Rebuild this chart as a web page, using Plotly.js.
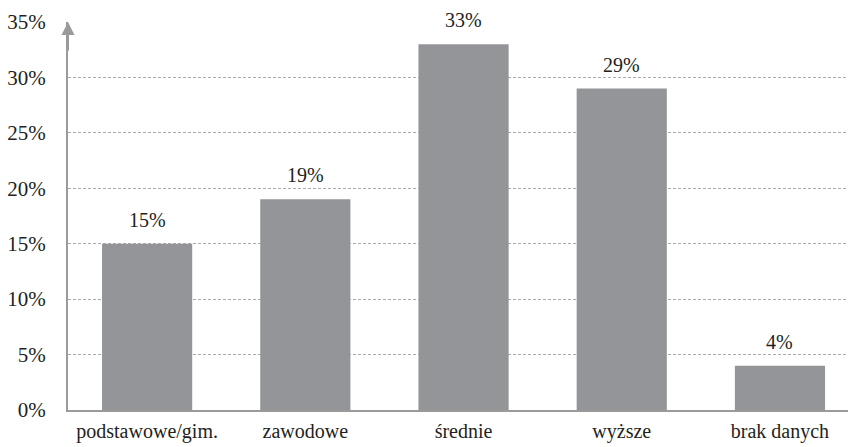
<!DOCTYPE html>
<html><head><meta charset="utf-8">
<script src="https://cdn.plot.ly/plotly-3.0.1.min.js"></script>
<style>html,body{margin:0;padding:0;background:#fff}</style>
</head><body>
<div id="chart" style="width:848px;height:447px"></div>
<script>
const categories = ["podstawowe/gim.", "zawodowe", "średnie", "wyższe", "brak danych"];
const values = [15, 19, 33, 29, 4];
const tickVals = [0, 5, 10, 15, 20, 25, 30, 35];
const tickText = ["0%", "5%", "10%", "15%", "20%", "25%", "30%", "35%"];

const font = "Liberation Serif";
const trace = {
  type: "bar",
  x: categories.map((c, i) => i),
  y: values,
  width: 0.57,
  marker: {color: "#939598"},
  hoverinfo: "none"
};
const annotations = values.map((v, i) => ({
  x: i, y: v, xref: "x", yref: "y", text: v + "%", showarrow: false,
  yshift: 24, font: {family: font, size: 20, color: "#231f20"}
}));
annotations.push({
  x: 0, y: 1, xref: "paper", yref: "paper", ax: 0, ay: 30, axref: "pixel", ayref: "pixel",
  showarrow: true, arrowhead: 2, arrowsize: 1.3, arrowwidth: 2, arrowcolor: "#9a9a9a", text: ""
});
const layout = {
  width: 848, height: 447,
  margin: {l: 68, r: 0, t: 22, b: 37},
  paper_bgcolor: "#fff", plot_bgcolor: "#fff",
  showlegend: false,
  xaxis: {
    range: [-0.5, 4.43], tickvals: categories.map((c, i) => i), ticktext: categories,
    showgrid: false, zeroline: false, showline: true, linecolor: "#9a9a9a", linewidth: 2,
    ticks: "", ticklabelstandoff: 2, tickfont: {family: font, size: 20, color: "#231f20"}
  },
  yaxis: {
    range: [0, 35], tickvals: tickVals, ticktext: tickText,
    showgrid: true, gridcolor: "#aaaaaa", griddash: "3px,2px", gridwidth: 1,
    zeroline: false, showline: true, linecolor: "#9a9a9a", linewidth: 2,
    ticks: "", ticklabelstandoff: 16, tickfont: {family: font, size: 21, color: "#231f20"}
  },
  annotations: annotations,
  font: {family: font}
};
Plotly.newPlot("chart", [trace], layout, {displayModeBar: false, staticPlot: true});
</script>
</body></html>
